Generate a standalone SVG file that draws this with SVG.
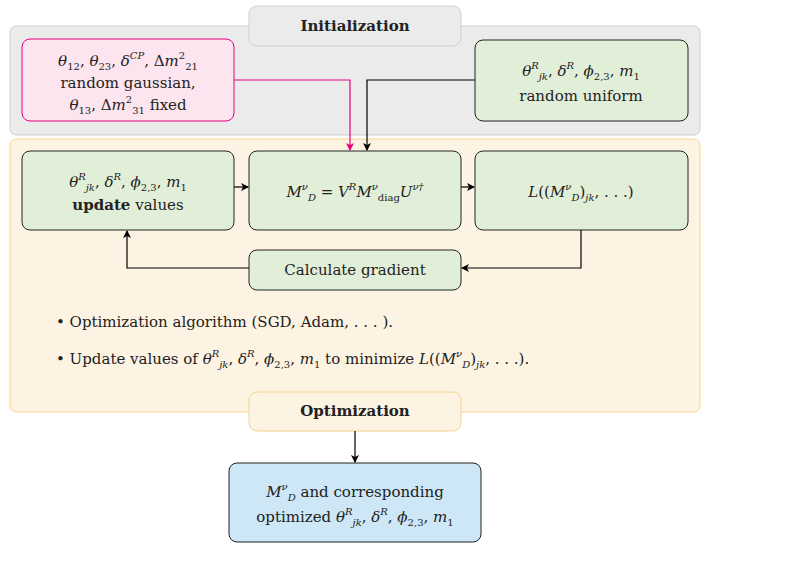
<svg xmlns="http://www.w3.org/2000/svg" width="811" height="586" viewBox="0 0 811 586" font-family="'DejaVu Serif',serif">
<defs>
<marker id="ah" markerWidth="8" markerHeight="8" refX="7" refY="4" orient="auto" markerUnits="userSpaceOnUse"><path d="M0,0 L8,4 L0,8 L2,4 Z" fill="#000"/></marker>
<marker id="ahp" markerWidth="8" markerHeight="8" refX="7" refY="4" orient="auto" markerUnits="userSpaceOnUse"><path d="M0,0 L8,4 L0,8 L2,4 Z" fill="#e6007e"/></marker>
<style>
text{font-family:'DejaVu Serif',serif;font-size:15px;fill:#222;text-anchor:middle}
.m{font-style:italic}
.s{font-size:10px}
.b{font-weight:bold}
.g{fill:#e2efd8;stroke:#222;stroke-width:1}
.c{fill:none;stroke:#000;stroke-width:1.2}
</style>
</defs>
<rect width="811" height="586" fill="#fff"/>
<g id="init-bg"><rect x="10" y="26" width="690" height="109" rx="6" fill="#ebebeb" stroke="#cfcfcf"/></g>
<g id="opt-bg"><rect x="10" y="139" width="690" height="273" rx="6" fill="#fdf3e2" stroke="#f6d394"/></g>
<g id="init-label"><rect x="249" y="6" width="212" height="40" rx="8" fill="#ebebeb" stroke="#cfcfcf"/><text x="355" y="31" class="b">Initialization</text></g>
<g id="pink"><rect x="22" y="39" width="212" height="82" rx="8" fill="#fce5ee" stroke="#e6007e"/>
<text x="128" y="66"><tspan class="m">θ</tspan><tspan class="s" dy="4">12</tspan><tspan dy="-4">, </tspan><tspan class="m">θ</tspan><tspan class="s" dy="4">23</tspan><tspan dy="-4">, </tspan><tspan class="m">δ</tspan><tspan class="s m" dy="-7">CP</tspan><tspan dy="7">, Δ</tspan><tspan class="m">m</tspan><tspan class="s" dy="-7">2</tspan><tspan class="s" dy="11">21</tspan></text>
<text x="128" y="88">random gaussian,</text>
<text x="128" y="110"><tspan class="m">θ</tspan><tspan class="s" dy="4">13</tspan><tspan dy="-4">, Δ</tspan><tspan class="m">m</tspan><tspan class="s" dy="-7">2</tspan><tspan class="s" dy="11">31</tspan><tspan dy="-4"> fixed</tspan></text></g>
<g id="uniform"><rect x="475" y="40" width="213" height="81" rx="8" class="g"/>
<text x="581" y="76"><tspan class="m">θ</tspan><tspan class="s m" dy="-7">R</tspan><tspan class="s m" dy="11">jk</tspan><tspan dy="-4">, </tspan><tspan class="m">δ</tspan><tspan class="s m" dy="-7">R</tspan><tspan dy="7">, </tspan><tspan class="m">ϕ</tspan><tspan class="s" dy="4">2,3</tspan><tspan dy="-4">, </tspan><tspan class="m">m</tspan><tspan class="s" dy="4">1</tspan></text>
<text x="581" y="101">random uniform</text></g>
<g id="update"><rect x="22" y="151" width="212" height="79" rx="8" class="g"/>
<text x="128" y="187"><tspan class="m">θ</tspan><tspan class="s m" dy="-7">R</tspan><tspan class="s m" dy="11">jk</tspan><tspan dy="-4">, </tspan><tspan class="m">δ</tspan><tspan class="s m" dy="-7">R</tspan><tspan dy="7">, </tspan><tspan class="m">ϕ</tspan><tspan class="s" dy="4">2,3</tspan><tspan dy="-4">, </tspan><tspan class="m">m</tspan><tspan class="s" dy="4">1</tspan></text>
<text x="128" y="210"><tspan class="b">update</tspan> values</text></g>
<g id="matrix"><rect x="249" y="151" width="212" height="79" rx="8" class="g"/>
<text x="355" y="197"><tspan class="m">M</tspan><tspan class="s m" dy="-7">ν</tspan><tspan class="s m" dy="11">D</tspan><tspan dy="-4"> = </tspan><tspan class="m">V</tspan><tspan class="s m" dy="-7">R</tspan><tspan class="m" dy="7">M</tspan><tspan class="s m" dy="-7">ν</tspan><tspan class="s" dy="11">diag</tspan><tspan class="m" dy="-4">U</tspan><tspan class="s m" dy="-7">ν†</tspan></text></g>
<g id="loss"><rect x="475" y="151" width="213" height="79" rx="8" class="g"/>
<text x="581" y="197"><tspan class="m">L</tspan>((<tspan class="m">M</tspan><tspan class="s m" dy="-7">ν</tspan><tspan class="s m" dy="11">D</tspan><tspan dy="-4">)</tspan><tspan class="s m" dy="4">jk</tspan><tspan dy="-4">, . . .)</tspan></text></g>
<g id="gradient"><rect x="249" y="250" width="212" height="40" rx="8" class="g"/><text x="355" y="275">Calculate gradient</text></g>
<g id="bullets">
<text x="56" y="327" style="text-anchor:start">• Optimization algorithm (SGD, Adam, . . . ).</text>
<text x="56" y="364" style="text-anchor:start">• Update values of <tspan class="m">θ</tspan><tspan class="s m" dy="-7">R</tspan><tspan class="s m" dy="11">jk</tspan><tspan dy="-4">, </tspan><tspan class="m">δ</tspan><tspan class="s m" dy="-7">R</tspan><tspan dy="7">, </tspan><tspan class="m">ϕ</tspan><tspan class="s" dy="4">2,3</tspan><tspan dy="-4">, </tspan><tspan class="m">m</tspan><tspan class="s" dy="4">1</tspan><tspan dy="-4"> to minimize </tspan><tspan class="m">L</tspan>((<tspan class="m">M</tspan><tspan class="s m" dy="-7">ν</tspan><tspan class="s m" dy="11">D</tspan><tspan dy="-4">)</tspan><tspan class="s m" dy="4">jk</tspan><tspan dy="-4">, . . .).</tspan></text></g>
<g id="opt-label"><rect x="249" y="392" width="212" height="39" rx="8" fill="#fdf3e2" stroke="#f6d394"/><text x="355" y="416" class="b">Optimization</text></g>
<g id="result"><rect x="229" y="463" width="252" height="79" rx="8" fill="#cde7f6" stroke="#222"/>
<text x="355" y="497"><tspan class="m">M</tspan><tspan class="s m" dy="-7">ν</tspan><tspan class="s m" dy="11">D</tspan><tspan dy="-4"> and corresponding</tspan></text>
<text x="355" y="522">optimized <tspan class="m">θ</tspan><tspan class="s m" dy="-7">R</tspan><tspan class="s m" dy="11">jk</tspan><tspan dy="-4">, </tspan><tspan class="m">δ</tspan><tspan class="s m" dy="-7">R</tspan><tspan dy="7">, </tspan><tspan class="m">ϕ</tspan><tspan class="s" dy="4">2,3</tspan><tspan dy="-4">, </tspan><tspan class="m">m</tspan><tspan class="s" dy="4">1</tspan></text></g>
<g id="connectors">
<path d="M234,80 H350 V150" fill="none" stroke="#e6007e" stroke-width="1.2" marker-end="url(#ahp)"/>
<path d="M475,80 H367 V150" class="c" marker-end="url(#ah)"/>
<path d="M234,187 H248" class="c" marker-end="url(#ah)"/>
<path d="M461,187 H474" class="c" marker-end="url(#ah)"/>
<path d="M581,230 V268 H462" class="c" marker-end="url(#ah)"/>
<path d="M249,268 H127 V231" class="c" marker-end="url(#ah)"/>
<path d="M355,431 V462" class="c" marker-end="url(#ah)"/>
</g>
</svg>
